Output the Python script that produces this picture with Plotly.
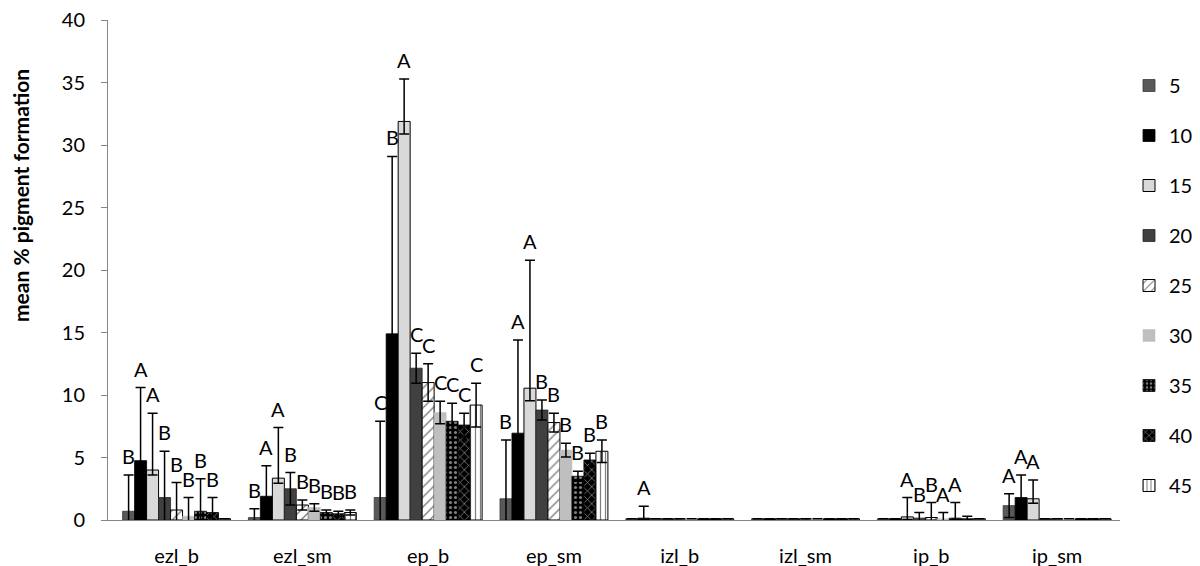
import plotly.graph_objects as go

groups = ["ezl_b", "ezl_sm", "ep_b", "ep_sm", "izl_b", "izl_sm", "ip_b", "ip_sm"]
series_names = ["5", "10", "15", "20", "25", "30", "35", "40", "45"]
y_ticks = [0, 5, 10, 15, 20, 25, 30, 35, 40]

# mean % pigment formation per series (across groups)
val_5 = [0.7, 0.2, 1.8, 1.7, 0.1, 0.1, 0.1, 1.15]
val_10 = [4.75, 1.9, 14.9, 6.95, 0.15, 0.1, 0.1, 1.8]
val_15 = [4.0, 3.35, 31.9, 10.55, 0.1, 0.1, 0.25, 1.7]
val_20 = [1.8, 2.5, 12.15, 8.8, 0.1, 0.1, 0.15, 0.1]
val_25 = [0.8, 1.2, 11.0, 7.8, 0.1, 0.1, 0.2, 0.1]
val_30 = [0.3, 1.0, 8.6, 5.6, 0.1, 0.1, 0.1, 0.1]
val_35 = [0.7, 0.6, 7.9, 3.5, 0.1, 0.1, 0.15, 0.1]
val_40 = [0.6, 0.5, 7.6, 4.8, 0.1, 0.1, 0.1, 0.1]
val_45 = [0.1, 0.6, 9.2, 5.5, 0.1, 0.1, 0.1, 0.1]

# upper error
err_5 = [2.9, 0.7, 6.1, 4.7, 0, 0, 0, 0.95]
err_10 = [5.85, 2.45, 14.2, 7.45, 0.95, 0, 0, 1.8]
err_15 = [4.55, 4.05, 3.4, 10.25, 0, 0, 1.55, 1.5]
err_20 = [3.7, 1.3, 1.2, 0.8, 0, 0, 0.45, 0]
err_25 = [2.2, 0.4, 1.5, 0.75, 0, 0, 1.2, 0]
err_30 = [1.5, 0.3, 0.9, 0.55, 0, 0, 0.5, 0]
err_35 = [2.6, 0.2, 1.45, 0.4, 0, 0, 1.25, 0]
err_40 = [1.2, 0.2, 0.95, 0.55, 0, 0, 0.2, 0]
err_45 = [0, 0.2, 1.75, 0.9, 0, 0, 0, 0]
# lower error of series 15 (visibly shorter)
err_15_minus = [0.4, 0.4, 1.0, 1.0, 0, 0, 0.2, 0.35]

# significance letters
lab_5 = ["B", "B", "C", "B", "", "", "", "A"]
lab_10 = ["A", "A", "B", "A", "A", "", "", "A"]
lab_15 = ["A", "A", "A", "A", "", "", "A", "A"]
lab_20 = ["B", "B", "C", "B", "", "", "B", ""]
lab_25 = ["B", "B", "C", "B", "", "", "B", ""]
lab_30 = ["B", "B", "C", "B", "", "", "A", ""]
lab_35 = ["B", "B", "C", "B", "", "", "A", ""]
lab_40 = ["B", "B", "C", "B", "", "", "", ""]
lab_45 = ["", "B", "C", "B", "", "", "", ""]

values = [val_5, val_10, val_15, val_20, val_25, val_30, val_35, val_40, val_45]
errors = [err_5, err_10, err_15, err_20, err_25, err_30, err_35, err_40, err_45]
letters = [lab_5, lab_10, lab_15, lab_20, lab_25, lab_30, lab_35, lab_40, lab_45]

styles = [
    dict(color="#595959", line=dict(color="#3a3a3a", width=0.8)),
    dict(color="#000000", line=dict(color="#000000", width=0.8)),
    dict(color="#d9d9d9", line=dict(color="#000000", width=1)),
    dict(color="#404040", line=dict(color="#262626", width=0.8)),
    dict(color="#ffffff", line=dict(color="#000000", width=1),
         pattern=dict(shape="/", fgcolor="#000000", bgcolor="#ffffff", size=7, solidity=0.2)),
    dict(color="#bfbfbf", line=dict(color="#bfbfbf", width=0.5)),
    dict(color="#000000", line=dict(color="#000000", width=0.8),
         pattern=dict(shape=".", fgcolor="#ffffff", bgcolor="#000000", size=5, solidity=0.3)),
    dict(color="#000000", line=dict(color="#000000", width=0.8),
         pattern=dict(shape="x", fgcolor="#ffffff", bgcolor="#000000", size=6, solidity=0.25)),
    dict(color="#ffffff", line=dict(color="#000000", width=1),
         pattern=dict(shape="|", fgcolor="#000000", bgcolor="#ffffff", size=5, solidity=0.25)),
]

FONT = "Lato, 'Open Sans', sans-serif"
bargap = 0.142
nser = len(series_names)
bw = (1 - bargap) / nser
plot_l, plot_r, plot_t, plot_b = 100, 1112, 12, 512

fig = go.Figure()
annotations = []
for i, name in enumerate(series_names):
    ey = dict(type="data", array=errors[i], visible=True, color="#000000",
              thickness=1.5, width=5)
    if name == "15":
        ey["symmetric"] = False
        ey["arrayminus"] = err_15_minus
    fig.add_trace(go.Bar(
        name=name, x=groups, y=values[i], marker=styles[i], error_y=ey,
        legendgroup=name,
    ))
    for g in range(len(groups)):
        txt = letters[i][g]
        if not txt:
            continue
        xc = g - (1 - bargap) / 2 + (i + 0.5) * bw
        annotations.append(dict(
            x=xc, y=values[i][g] + errors[i][g], xref="x", yref="y",
            text=txt, showarrow=False, yanchor="bottom", yshift=5,
            font=dict(family=FONT, size=20, color="#000000"),
        ))

annotations.append(dict(
    x=(12 - plot_l) / (plot_r - plot_l), y=(plot_b - 188) / (plot_b - plot_t),
    xref="paper", yref="paper", xanchor="center", yanchor="middle",
    text="<b>mean % pigment formation</b>",
    showarrow=False, textangle=-90, font=dict(family=FONT, size=21, color="#000000"),
))

fig.update_layout(
    width=1200, height=566,
    margin=dict(l=plot_l, r=1200 - plot_r, t=plot_t, b=566 - plot_b, pad=0, autoexpand=False),
    paper_bgcolor="white", plot_bgcolor="white",
    barmode="group", bargap=bargap, bargroupgap=0,
    font=dict(family=FONT, size=20, color="#000000"),
    annotations=annotations,
    showlegend=True,
    legend=dict(
        x=(1121 - plot_l) / (plot_r - plot_l), xanchor="left",
        y=0.908, yanchor="top",
        font=dict(family=FONT, size=20, color="#000000"),
        traceorder="grouped", tracegroupgap=21,
        bgcolor="rgba(0,0,0,0)", borderwidth=0,
    ),
    xaxis=dict(
        range=[-0.545, 7.5], showline=True, linecolor="#868686", linewidth=1,
        ticks="", showgrid=False, zeroline=False, automargin=False,
        tickfont=dict(family=FONT, size=20, color="#000000"),
        ticklabelstandoff=18,
    ),
    yaxis=dict(
        range=[0, 40.02], tickmode="array", tickvals=y_ticks,
        showline=True, linecolor="#868686", linewidth=1, automargin=False,
        ticks="outside", ticklen=6, tickcolor="#868686", showgrid=False,
        zeroline=False, tickfont=dict(family=FONT, size=20, color="#000000"),
        ticklabelstandoff=12, ticklabeloverflow="allow",
    ),
)

fig.write_html("out.html")
